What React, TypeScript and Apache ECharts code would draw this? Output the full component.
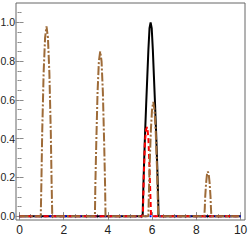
import React, { useEffect, useRef } from "react";
import * as echarts from "echarts";

// Black solid curve
const blackX = [0, 5.57, 5.59, 5.63, 5.68, 5.73, 5.78, 5.83, 5.88, 5.93, 5.98, 6.03, 6.08, 6.13, 6.18, 6.23, 6.27, 6.29, 10];
const blackY = [0, 0, 0.1, 0.26, 0.43, 0.58, 0.72, 0.86, 0.97, 1.0, 0.97, 0.86, 0.72, 0.58, 0.43, 0.26, 0.1, 0, 0];

// Red dashed curve
const redX = [0, 5.58, 5.62, 5.67, 5.73, 5.78, 5.83, 5.87, 5.91, 5.95, 10];
const redY = [0, 0, 0.2, 0.38, 0.45, 0.46, 0.4, 0.28, 0.14, 0, 0];

// Blue dotted curve (flat)
const blueX = [0, 10];
const blueY = [0, 0];

// Brown dot-dashed curve
const brownX = [
  0,
  0.96, 0.99, 1.025, 1.09, 1.155, 1.22, 1.285, 1.35, 1.415, 1.45, 1.48,
  3.41, 3.43, 3.47, 3.53, 3.59, 3.65, 3.71, 3.77, 3.83, 3.87, 3.89,
  5.83, 5.85, 5.885, 5.94, 5.995, 6.05, 6.105, 6.16, 6.215, 6.25, 6.27,
  8.36, 8.38, 8.4, 8.44, 8.48, 8.52, 8.56, 8.6, 8.64, 8.66, 8.68,
  10,
];
const brownY = [
  0,
  0, 0.18, 0.43, 0.74, 0.92, 0.98, 0.92, 0.74, 0.43, 0.18, 0,
  0, 0.16, 0.37, 0.64, 0.8, 0.85, 0.8, 0.64, 0.37, 0.16, 0,
  0, 0.11, 0.26, 0.44, 0.55, 0.59, 0.55, 0.44, 0.26, 0.11, 0,
  0, 0.04, 0.1, 0.17, 0.215, 0.23, 0.215, 0.17, 0.1, 0.04, 0,
  0,
];

const xMajor = [0, 2, 4, 6, 8, 10];
const xMinor = [0.5, 1, 1.5, 2.5, 3, 3.5, 4.5, 5, 5.5, 6.5, 7, 7.5, 8.5, 9, 9.5];
const yMajor = [0, 0.2, 0.4, 0.6, 0.8, 1.0];
const yMinor = [0.05, 0.1, 0.15, 0.25, 0.3, 0.35, 0.45, 0.5, 0.55, 0.65, 0.7, 0.75, 0.85, 0.9, 0.95, 1.05];

const X_MIN = -0.16;
const X_MAX = 10.2;
const Y_MIN = -0.02;
const Y_MAX = 1.1;

const pairs = (xs: number[], ys: number[]) => xs.map((x, i) => [x, ys[i]]);

export default function App() {
  const ref = useRef<HTMLDivElement>(null);
  useEffect(() => {
    if (!ref.current) return;
    const chart = echarts.init(ref.current, undefined, { renderer: "svg" });
    const tickColor = "#8a8a8a";
    const fontFamily = "'Liberation Sans Narrow', 'Liberation Sans', Arial, sans-serif";
    const mkX = (pos: "bottom" | "top", vals: number[], len: number, labels: boolean) => ({
      type: "value",
      position: pos,
      min: X_MIN,
      max: X_MAX,
      axisLine: { show: false },
      splitLine: { show: false },
      axisTick: { show: true, inside: true, length: len, customValues: vals, lineStyle: { color: tickColor, width: 1 } },
      axisLabel: labels
        ? { show: true, customValues: vals, margin: 4, color: "#222", fontSize: 12, fontFamily, formatter: (v: number) => String(Math.round(v)) }
        : { show: false },
    });
    const mkY = (pos: "left" | "right", vals: number[], len: number, labels: boolean) => ({
      type: "value",
      position: pos,
      min: Y_MIN,
      max: Y_MAX,
      axisLine: { show: false },
      splitLine: { show: false },
      axisTick: { show: true, inside: true, length: len, customValues: vals, lineStyle: { color: tickColor, width: 1 } },
      axisLabel: labels
        ? { show: true, customValues: vals, margin: 1, color: "#222", fontSize: 10.5, fontFamily, formatter: (v: number) => v.toFixed(1) }
        : { show: false },
    });
    const lineBase = { type: "line", showSymbol: false, symbol: "none", xAxisIndex: 0, yAxisIndex: 0, z: 2 };
    chart.setOption({
      animation: false,
      grid: {
        left: 16,
        right: 4,
        top: 3,
        bottom: 20,
        containLabel: false,
        outerBoundsMode: "none",
        show: true,
        borderColor: "#666",
        borderWidth: 1,
        backgroundColor: "transparent",
      },
      xAxis: [
        mkX("bottom", xMajor, 4, true),
        mkX("bottom", xMinor, 2, false),
        mkX("top", xMajor, 4, false),
        mkX("top", xMinor, 2, false),
      ],
      yAxis: [
        mkY("left", yMajor, 4, true),
        mkY("left", yMinor, 2, false),
        mkY("right", yMajor, 4, false),
        mkY("right", yMinor, 2, false),
      ],
      series: [
        { ...lineBase, data: pairs(blackX, blackY), lineStyle: { color: "#000", width: 2 } },
        { ...lineBase, data: pairs(blueX, blueY), lineStyle: { color: "#0000ff", width: 2, type: [2, 3] } },
        { ...lineBase, data: pairs(redX, redY), lineStyle: { color: "#ff0000", width: 2, type: [5, 3] } },
        { ...lineBase, data: pairs(brownX, brownY), lineStyle: { color: "#9e6b38", width: 2, type: [9, 2, 2, 2] } },
      ],
    });
    return () => chart.dispose();
  }, []);
  return (
    <div
      ref={ref}
      style={{ position: "fixed", left: 0, top: 0, width: 249, height: 240, background: "#fff" }}
    />
  );
}
